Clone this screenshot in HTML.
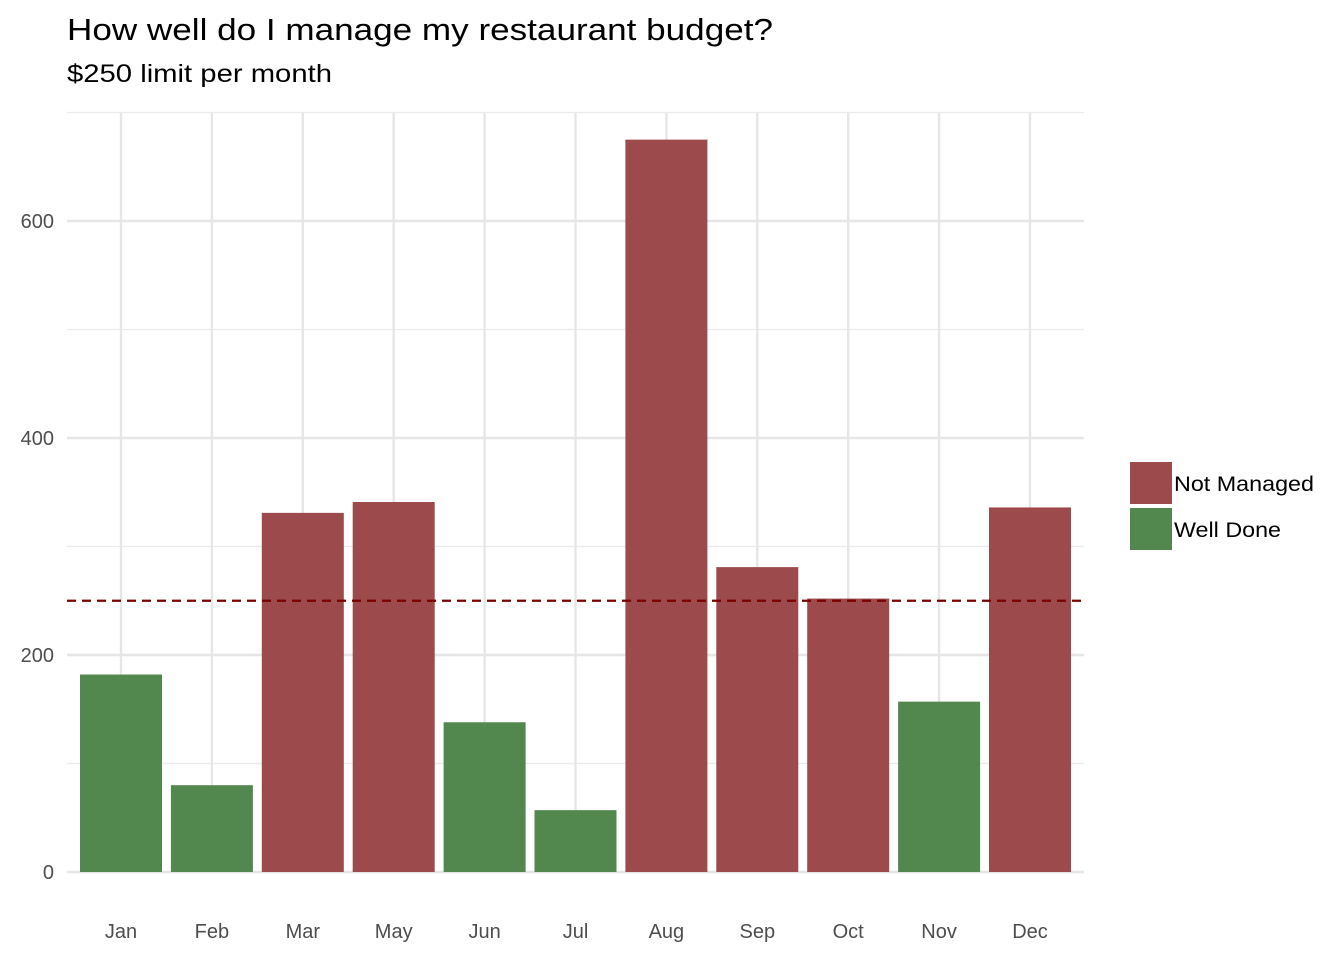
<!DOCTYPE html>
<html><head><meta charset="utf-8"><style>
body{margin:0;background:#fff;font-family:"Liberation Sans",Arial,sans-serif;}
svg text{font-family:"Liberation Sans",Arial,sans-serif;}
</style></head><body>
<svg id="chart" width="1344" height="960" xmlns="http://www.w3.org/2000/svg">
<text x="67" y="40" font-size="31" fill="#000" textLength="706" lengthAdjust="spacingAndGlyphs">How well do I manage my restaurant budget?</text>
<text x="67" y="82" font-size="25" fill="#000" textLength="265" lengthAdjust="spacingAndGlyphs">$250 limit per month</text>
<g id="grid"></g><g id="bars"></g><g id="axes"></g>
<g>
<rect x="1130" y="462" width="42" height="42" fill="#9c4a4b"/>
<text x="1174" y="491" font-size="21" textLength="140" lengthAdjust="spacingAndGlyphs">Not Managed</text>
<rect x="1130" y="508" width="42" height="42" fill="#52874d"/>
<text x="1174" y="537" font-size="21" textLength="107" lengthAdjust="spacingAndGlyphs">Well Done</text>
</g>
</svg>
<script>
const categories=["Jan","Feb","Mar","May","Jun","Jul","Aug","Sep","Oct","Nov","Dec"];
const values=[182,80,331,341,138,57,675,281,252,157,336];
const limit=250;
const majorTicks=[0,200,400,600];
const minorTicks=[100,300,500,700];
const NS="http://www.w3.org/2000/svg";
const y=v=>872-v*1.085;
const x=i=>121+i*90.9;
function mk(tag,attrs,parent){const e=document.createElementNS(NS,tag);for(const k in attrs)e.setAttribute(k,attrs[k]);parent.appendChild(e);return e;}
const grid=document.getElementById('grid'),bars=document.getElementById('bars'),axes=document.getElementById('axes');
minorTicks.forEach(t=>{const l=mk('line',{x1:67,x2:1084,y1:y(t),y2:y(t),stroke:'#ebebeb','stroke-width':1.2},grid);

});
majorTicks.forEach(t=>{const l=mk('line',{x1:67,x2:1084,y1:y(t),y2:y(t),stroke:'#e6e6e6','stroke-width':2.4},grid);


const tx=mk('text',{x:54,y:y(t)+7,'font-size':20,fill:'#4d4d4d','text-anchor':'end'},axes);tx.textContent=t;

});
categories.forEach((c,i)=>{const l=mk('line',{x1:x(i),x2:x(i),y1:113,y2:872,stroke:'#e6e6e6','stroke-width':2.4},grid);


const v=values[i];const r=mk('rect',{x:x(i)-41,width:82,y:y(v),height:872-y(v),fill:v>limit?'#9c4a4b':'#52874d'},bars);


const tx=mk('text',{x:x(i),y:938,'font-size':20,fill:'#4d4d4d','text-anchor':'middle'},axes);tx.textContent=c;

});
const d=mk('line',{x1:67,x2:1084,y1:y(limit),y2:y(limit),stroke:'#7a0000','stroke-width':2.2,'stroke-dasharray':'9,6'},bars);


</script>
</body></html>
